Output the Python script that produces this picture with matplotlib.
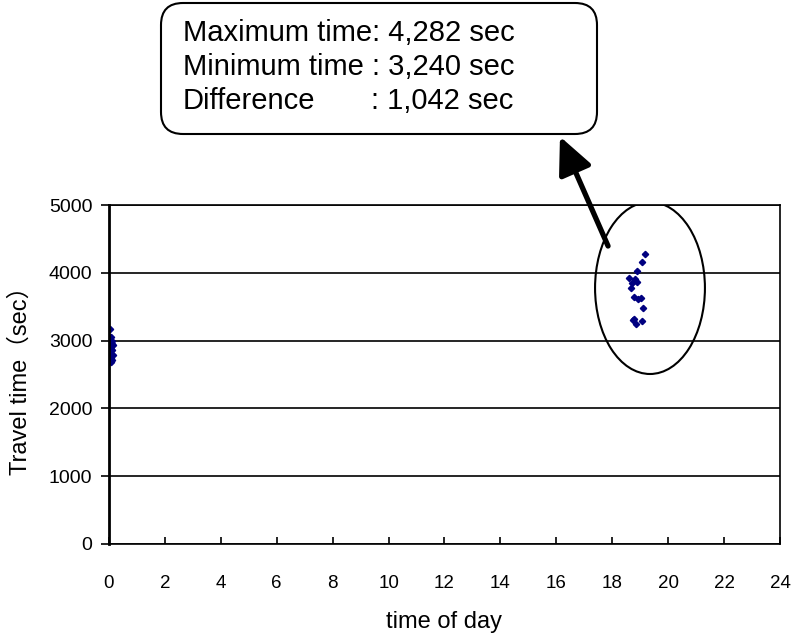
import matplotlib.pyplot as plt
import numpy as np
from matplotlib.patches import Ellipse, FancyBboxPatch
from matplotlib.transforms import IdentityTransform

plt.rcParams['font.family'] = ['Liberation Sans', 'Noto Sans CJK JP', 'DejaVu Sans']

# travel times just after midnight
t_night = [0.05, 0.08, 0.12, 0.10, 0.14, 0.06, 0.12, 0.08, 0.13, 0.06, 0.10, 0.08]
tt_night = [3175, 3050, 2990, 2950, 2930, 2880, 2860, 2800, 2790, 2740, 2720, 2690]

# travel times in the evening
t_eve = [19.16, 19.06, 18.87, 18.60, 18.81, 18.69, 18.87, 18.66, 18.78, 18.93,
         19.03, 19.11, 18.79, 18.85, 19.05, 18.75]
tt_eve = [4282, 4154, 4022, 3919, 3911, 3846, 3871, 3773, 3641, 3617,
          3632, 3485, 3324, 3240, 3289, 3299]

x_ticks = np.arange(0, 25, 2)
y_ticks = np.arange(0, 5001, 1000)

fig = plt.figure(figsize=(8.04, 6.37), dpi=100)
ax = fig.add_axes([109/804, 1 - 544/637, (780 - 109)/804, (544 - 205)/637])

ax.plot(t_night, tt_night, 'D', color='#000080', markersize=3.2)
ax.plot(t_eve, tt_eve, 'D', color='#000080', markersize=3.2)

ax.set_xlim(0, 24)
ax.set_ylim(0, 5000)
ax.set_xticks(x_ticks)
ax.set_yticks(y_ticks)
ax.yaxis.grid(True, color='black', lw=1.2)
ax.set_axisbelow(True)
for s in ax.spines.values():
    s.set_linewidth(1.2)
ax.spines['left'].set_linewidth(2)
ax.tick_params(axis='x', direction='in', length=5, width=1.2, pad=22, labelsize=13.5)
ax.tick_params(axis='y', direction='out', length=6, width=1.2, pad=6, labelsize=14)

ax.set_xlabel('time of day', fontsize=17, labelpad=14)
ax.set_ylabel('Travel time（sec）', fontsize=17, labelpad=12)

# circle around the evening peak
ell = Ellipse((19.35, 3776), 3.93, 2537, fill=False, edgecolor='black', lw=1.5)
ax.add_patch(ell)

ax.annotate('', xy=(16.13, 6010), xytext=(17.85, 4395),
            annotation_clip=False,
            arrowprops=dict(arrowstyle='-|>,head_length=1.5,head_width=0.7',
                            mutation_scale=15, lw=3.8, color='black',
                            shrinkA=0, shrinkB=0))

# rounded callout box (pixel coordinates)
box = FancyBboxPatch((161, 637 - 134), 436, 131,
                     boxstyle='round,pad=0,rounding_size=22',
                     transform=IdentityTransform(), facecolor='white',
                     edgecolor='black', lw=1.5)
fig.patches.append(box)

fig.text(183/804, 1 - 33/637, 'Maximum time: 4,282 sec', fontsize=21, va='center')
fig.text(183/804, 1 - 67/637, 'Minimum time : 3,240 sec', fontsize=21, va='center')
fig.text(183/804, 1 - 101/637, 'Difference', fontsize=21, va='center')
fig.text(371/804, 1 - 101/637, ': 1,042 sec', fontsize=21, va='center')

fig.savefig('out.png', dpi=100)
